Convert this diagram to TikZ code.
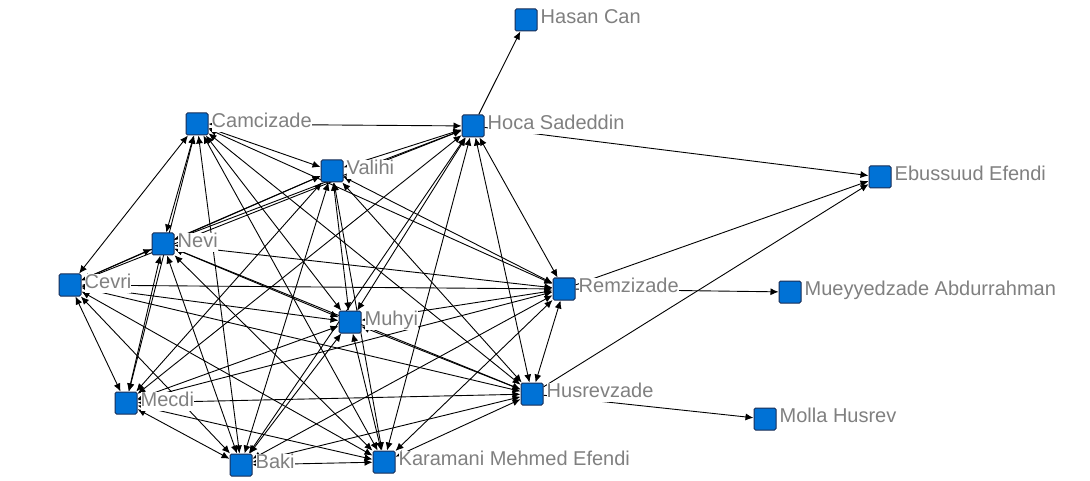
\documentclass[tikz,border=0pt]{standalone}
\usepackage{fontspec}
\setmainfont{Liberation Sans}
\usetikzlibrary{arrows.meta}
\pgfdeclarelayer{edges}
\pgfdeclarelayer{labels}
\pgfsetlayers{edges,labels,main}
\definecolor{nodeblue}{RGB}{0,114,214}
\definecolor{nodeedge}{RGB}{25,45,85}
\definecolor{labelgray}{RGB}{128,128,128}
\tikzset{
  actor/.style={rectangle, rounded corners=1.5pt, minimum size=22pt, inner sep=0pt,
    fill=nodeblue, draw=nodeedge, line width=1pt},
  name label/.style={anchor=north west, inner sep=0pt, fill=white, text=labelgray,
    font=\fontsize{20}{24}\selectfont, text height=15pt, text depth=4pt},
  tie/.style={line width=0.9pt, black,
    {Latex[length=8pt,width=7pt]}-{Latex[length=8pt,width=7pt]}},
  onetie/.style={line width=0.9pt, black, -{Latex[length=8pt,width=7pt]}},
}
\begin{document}
\begin{tikzpicture}[x=1pt,y=-1pt]
\useasboundingbox (0,0) rectangle (1090,481);

% actors
\node[actor] (hasan)    at (526,20)  {};
\node[actor] (hoca)     at (473,126) {};
\node[actor] (camci)    at (197,124) {};
\node[actor] (valihi)   at (332,171) {};
\node[actor] (ebu)      at (880,177) {};
\node[actor] (nevi)     at (163,244) {};
\node[actor] (cevri)    at (70,285)  {};
\node[actor] (remzi)    at (564,289) {};
\node[actor] (muey)     at (790,292) {};
\node[actor] (muhyi)    at (350,322) {};
\node[actor] (husrev)   at (532,394) {};
\node[actor] (mecdi)    at (126,403) {};
\node[actor] (molla)    at (765,419) {};
\node[actor] (baki)     at (241,465) {};
\node[actor] (karamani) at (384,462) {};

% names, drawn over the ties
\begin{pgfonlayer}{labels}
\node[name label] (hasan-l)    at ([xshift=3pt]hasan.north east)    {Hasan Can};
\node[name label] (hoca-l)     at ([xshift=3pt]hoca.north east)     {Hoca Sadeddin};
\node[name label] (camci-l)    at ([xshift=3pt]camci.north east)    {Camcizade};
\node[name label] (valihi-l)   at ([xshift=3pt]valihi.north east)   {Valihi};
\node[name label] (ebu-l)      at ([xshift=3pt]ebu.north east)      {Ebussuud Efendi};
\node[name label] (nevi-l)     at ([xshift=3pt]nevi.north east)     {Nevi};
\node[name label] (cevri-l)    at ([xshift=3pt]cevri.north east)    {Cevri};
\node[name label] (remzi-l)    at ([xshift=3pt]remzi.north east)    {Remzizade};
\node[name label] (muey-l)     at ([xshift=3pt]muey.north east)     {Mueyyedzade Abdurrahman};
\node[name label] (muhyi-l)    at ([xshift=3pt]muhyi.north east)    {Muhyi};
\node[name label] (husrev-l)   at ([xshift=3pt]husrev.north east)   {Husrevzade};
\node[name label] (mecdi-l)    at ([xshift=3pt]mecdi.north east)    {Mecdi};
\node[name label] (molla-l)    at ([xshift=3pt]molla.north east)    {Molla Husrev};
\node[name label] (baki-l)     at ([xshift=3pt]baki.north east)     {Baki};
\node[name label] (karamani-l) at ([xshift=3pt]karamani.north east) {Karamani Mehmed Efendi};
\end{pgfonlayer}

% ties
\begin{pgfonlayer}{edges}
\fill[white] (0,0) rectangle (1090,481);
\foreach \a [count=\i] in {camci,hoca,valihi,nevi,cevri,remzi,muhyi,husrev,mecdi,baki,karamani}{
  \foreach \b [count=\j] in {camci,hoca,valihi,nevi,cevri,remzi,muhyi,husrev,mecdi,baki,karamani}{
    \ifnum\j>\i \draw[tie] (\a) -- (\b); \fi
  }
}
\draw[onetie] (hoca) -- (hasan);
\draw[onetie] (hoca) -- (ebu);
\draw[onetie] (remzi) -- (ebu);
\draw[onetie] (husrev) -- (ebu);
\draw[onetie] (remzi) -- (muey);
\draw[onetie] (husrev) -- (molla);
\end{pgfonlayer}
\end{tikzpicture}
\end{document}
